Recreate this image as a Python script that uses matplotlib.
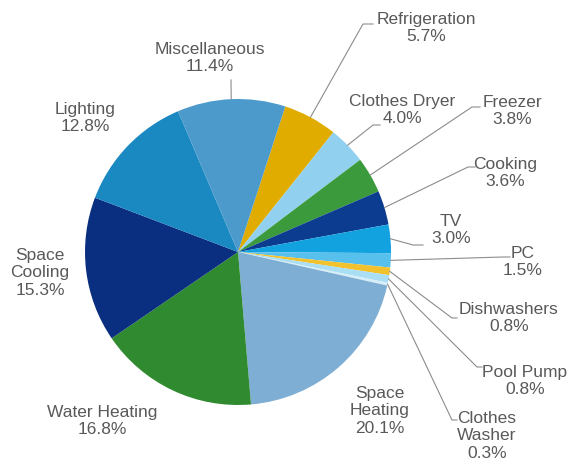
import numpy as np
import matplotlib.pyplot as plt

categories = ['Refrigeration', 'Clothes Dryer', 'Freezer', 'Cooking', 'TV', 'PC',
              'Dishwashers', 'Pool Pump', 'Clothes\nWasher', 'Space\nHeating',
              'Water Heating', 'Space\nCooling', 'Lighting', 'Miscellaneous']
shares = [5.7, 4.0, 3.8, 3.6, 3.0, 1.5, 0.8, 0.8, 0.3, 20.1, 16.8, 15.3, 12.8, 11.4]

colors = ['#E0AC00', '#92D0F0', '#3A9A3C', '#0B3C8F', '#12A2DF', '#58C0EC',
          '#F2C12E', '#A9DEF4', '#D5EEF8', '#7EAED3', '#2F8A30', '#0A2F80',
          '#1A88C1', '#4C9ACB']

W, H = 572, 465
CX, CY, R = 238, 252, 153

# text centre, then leader elbow and end (pixels, origin top-left); None = no leader
label_layout = [
    ((426, 28), (363, 24), (373, 24)),
    ((402, 110), (373, 125), (380, 125)),
    ((512, 111), (472, 107), (480, 107)),
    ((505, 173), (468, 167), (475, 167)),
    ((451, 230), (413, 245), (423, 245)),
    ((523, 262), (503, 257), (510, 257)),
    ((509, 318), (452, 318), (457, 318)),
    ((525, 381), (477, 367), (482, 367)),
    ((487, 436), (452, 420), (457, 420)),
    ((380, 411), None, None),
    ((102, 421), None, None),
    ((40, 273), None, None),
    ((85, 118), None, None),
    ((210, 58), (231, 80), (231, 80)),
]


def flip(p):
    return p[0], H - p[1]


fig = plt.figure(figsize=(W / 100, H / 100), dpi=100)
ax = fig.add_axes([0, 0, 1, 1])

wedges, _ = ax.pie(shares, colors=colors, startangle=72, counterclock=False,
                   center=(CX, H - CY), radius=R, wedgeprops=dict(linewidth=0))

for w, name, val, (txt, elbow, end) in zip(wedges, categories, shares, label_layout):
    tx, ty = flip(txt)
    ax.text(tx, ty, f'{name}\n{val:.1f}%', ha='center', va='center',
            fontsize=12.5, color='#595959', family='Liberation Sans', linespacing=1.2)
    if elbow is None:
        continue
    mid = np.deg2rad((w.theta1 + w.theta2) / 2)
    sx = CX + R * np.cos(mid)
    sy = (H - CY) + R * np.sin(mid)
    ex, ey = flip(elbow)
    fx, fy = flip(end)
    ax.plot([sx, ex, fx], [sy, ey, fy], color='#8c8c8c', lw=0.8)

ax.set_xlim(0, W)
ax.set_ylim(0, H)
ax.set_aspect('equal')
ax.axis('off')

fig.savefig('out.png', dpi=100, facecolor='white')
